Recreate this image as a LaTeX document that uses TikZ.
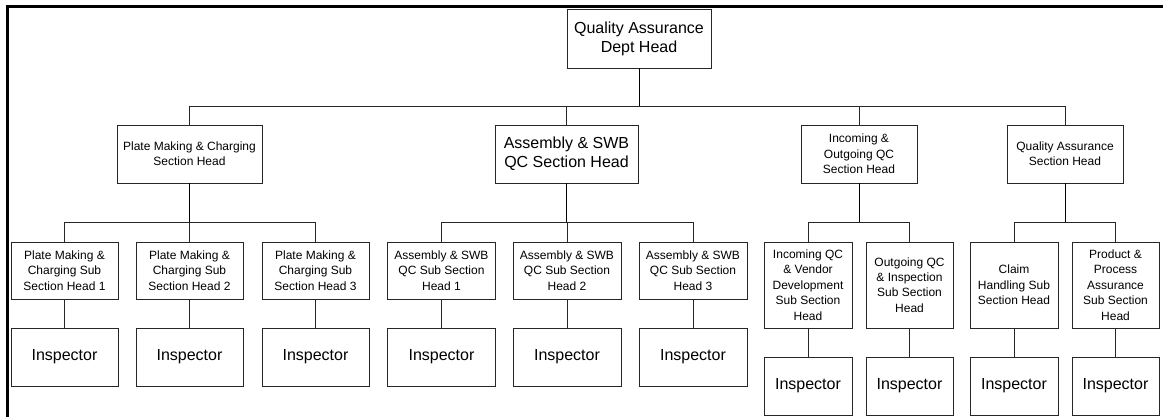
\documentclass[tikz,border=0pt]{standalone}
\usepackage{fontspec}
\setmainfont{Liberation Sans}
\usetikzlibrary{calc}
\tikzset{
  box/.style={draw=black!85, line width=0.85pt, rectangle, align=center, inner sep=1pt, fill=white},
  big/.style={font=\fontsize{16}{19}\selectfont},
  small/.style={font=\fontsize{12}{15.4}\selectfont},
  link/.style={draw=black!85, line width=0.85pt},
  trunk/.style={draw=black, line width=1pt},
  frame/.style={draw=black, line width=3pt}
}
\begin{document}
\begin{tikzpicture}[x=1pt,y=-1pt]
\useasboundingbox (0,0) rectangle (1163,417);
\clip (0,0) rectangle (1163,417);
\draw[frame] (7,430) -- (7,7) -- (1175,7);

% top
\node[box,big,minimum width=144pt,minimum height=59pt] (top) at (639,38.5) {Quality Assurance\\Dept Head};

% sections
\node[box,small,minimum width=145pt,minimum height=58pt] (s1) at (189.5,154) {Plate Making \& Charging\\Section Head};
\node[box,big,minimum width=143pt,minimum height=58pt] (s2) at (566.5,154) {Assembly \& SWB\\QC Section Head};
\node[box,small,minimum width=116pt,minimum height=58pt] (s3) at (859,154) {Incoming \&\\Outgoing QC\\Section Head};
\node[box,small,minimum width=116pt,minimum height=58pt] (s4) at (1065,154) {Quality Assurance\\Section Head};

% sub sections
\node[box,small,minimum width=107pt,minimum height=57pt] (p1) at (64.5,270.5) {Plate Making \&\\Charging Sub\\Section Head 1};
\node[box,small,minimum width=107pt,minimum height=57pt] (p2) at (189.5,270.5) {Plate Making \&\\Charging Sub\\Section Head 2};
\node[box,small,minimum width=107pt,minimum height=57pt] (p3) at (315.5,270.5) {Plate Making \&\\Charging Sub\\Section Head 3};
\node[box,small,minimum width=108pt,minimum height=57pt] (a1) at (441.5,270.5) {Assembly \& SWB\\QC Sub Section\\Head 1};
\node[box,small,minimum width=108pt,minimum height=57pt] (a2) at (567,270.5) {Assembly \& SWB\\QC Sub Section\\Head 2};
\node[box,small,minimum width=108pt,minimum height=57pt] (a3) at (693,270.5) {Assembly \& SWB\\QC Sub Section\\Head 3};
\node[box,small,minimum width=88pt,minimum height=86pt] (i1) at (808,285) {Incoming QC\\\& Vendor\\Development\\Sub Section\\Head};
\node[box,small,minimum width=87pt,minimum height=86pt] (i2) at (909.5,285) {Outgoing QC\\\& Inspection\\Sub Section\\Head};
\node[box,small,minimum width=88pt,minimum height=86pt] (q1) at (1014,285) {Claim\\Handling Sub\\Section Head};
\node[box,small,minimum width=87pt,minimum height=86pt] (q2) at (1115.5,285) {Product \&\\Process\\Assurance\\Sub Section\\Head};

% inspectors
\node[box,big,minimum width=107pt,minimum height=58pt] (ip1) at (64.5,357) {Inspector};
\node[box,big,minimum width=107pt,minimum height=58pt] (ip2) at (189.5,357) {Inspector};
\node[box,big,minimum width=107pt,minimum height=58pt] (ip3) at (315.5,357) {Inspector};
\node[box,big,minimum width=108pt,minimum height=58pt] (ia1) at (441.5,357) {Inspector};
\node[box,big,minimum width=108pt,minimum height=58pt] (ia2) at (567,357) {Inspector};
\node[box,big,minimum width=108pt,minimum height=58pt] (ia3) at (693,357) {Inspector};
\node[box,big,minimum width=88pt,minimum height=58pt] (ii1) at (808,386) {Inspector};
\node[box,big,minimum width=87pt,minimum height=58pt] (ii2) at (909.5,386) {Inspector};
\node[box,big,minimum width=88pt,minimum height=58pt] (iq1) at (1014,386) {Inspector};
\node[box,big,minimum width=87pt,minimum height=58pt] (iq2) at (1115.5,386) {Inspector};

% connectors top level
\draw[trunk] (top.south) -- ++(0,38) coordinate (bus0);
\foreach \s in {s1,s2,s3,s4}{
  \draw[link] (bus0) -| (\s.north);
}
% section to subsections
\draw[trunk] (s1.south) -- ++(0,39) coordinate (bus1);
\foreach \s in {p1,p2,p3}{ \draw[link] (bus1) -| (\s.north); }
\draw[trunk] (s2.south) -- ++(0,39) coordinate (bus2);
\foreach \s in {a1,a2,a3}{ \draw[link] (bus2) -| (\s.north); }
\draw[trunk] (s3.south) -- ++(0,39) coordinate (bus3);
\foreach \s in {i1,i2}{ \draw[link] (bus3) -| (\s.north); }
\draw[trunk] (s4.south) -- ++(0,39) coordinate (bus4);
\foreach \s in {q1,q2}{ \draw[link] (bus4) -| (\s.north); }
% subsections to inspectors
\draw[link] (p1.south) -- (ip1.north);
\draw[link] (p2.south) -- (ip2.north);
\draw[link] (p3.south) -- (ip3.north);
\draw[link] (a1.south) -- (ia1.north);
\draw[link] (a2.south) -- (ia2.north);
\draw[link] (a3.south) -- (ia3.north);
\draw[link] (i1.south) -- (ii1.north);
\draw[link] (i2.south) -- (ii2.north);
\draw[link] (q1.south) -- (iq1.north);
\draw[link] (q2.south) -- (iq2.north);
\end{tikzpicture}
\end{document}
